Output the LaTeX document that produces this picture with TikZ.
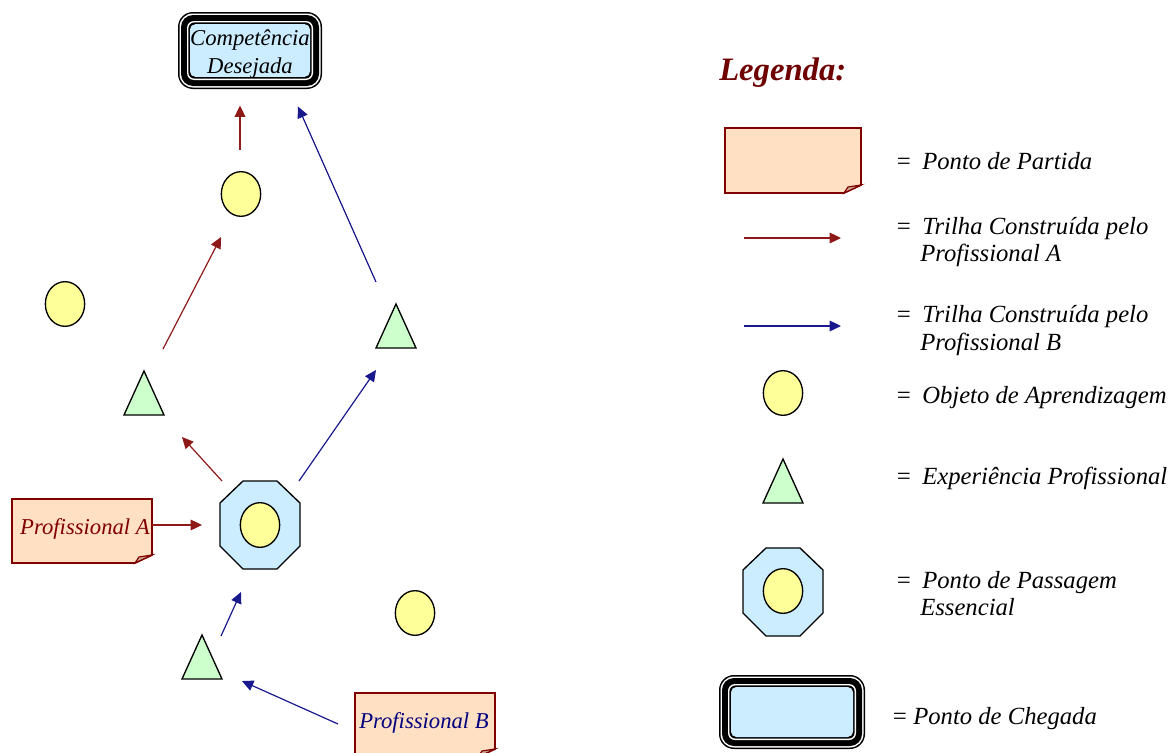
\documentclass[tikz,border=0pt]{standalone}
\usepackage{fontspec}
\setmainfont{Liberation Serif}
\usetikzlibrary{arrows.meta,shapes.geometric,calc}
\definecolor{darkred}{RGB}{128,0,0}
\definecolor{navyb}{RGB}{0,0,128}
\definecolor{peach}{RGB}{255,224,194}
\definecolor{foldtan}{RGB}{204,172,150}
\definecolor{lightyellow}{RGB}{255,255,153}
\definecolor{lightgreen}{RGB}{204,255,204}
\definecolor{lightblue}{RGB}{204,236,255}
\definecolor{legred}{RGB}{110,0,0}
\newcommand\notebox[4]{%
  \filldraw[notest] (#1,#2) -- (#3,#2) -- (#3,#4-8) -- (#3-17,#4) -- (#1,#4) -- cycle;
  \filldraw[foldst] (#3,#4-8) -- (#3-13,#4-6) -- (#3-17,#4) -- cycle;}
\newcommand\tripleframe[4]{%
  \foreach \o/\c/\r in {12/black/15, 10.5/white/13.5, 9/black/12, 3/white/7, 1.6/black/6}{
    \fill[\c, rounded corners=\r*0.75pt] (#1-#3-\o,#2-#4-\o) rectangle (#1+#3+\o,#2+#4+\o);}}
\tikzset{
  trail/.style={line width=0.9pt, -{Triangle[length=8.5pt,width=8pt]}},
  trailA/.style={trail, draw=darkred!90!white},
  trailB/.style={trail, draw=navyb!90!white},
  notest/.style={draw=darkred, line width=1.3pt, fill=peach, line join=miter},
  foldst/.style={draw=darkred, line width=0.9pt, fill=foldtan},
  obj/.style={ellipse, draw=black, line width=1pt, fill=lightyellow, minimum width=29.5pt, minimum height=33.5pt, inner sep=0pt},
  expst/.style={draw=black, line width=1pt, fill=lightgreen, line join=miter},
  octst/.style={draw=black, line width=1pt, fill=lightblue},
  exper/.pic={\path[expst] (-20,22) -- (0,-22) -- (20,22) -- cycle;},
  octo/.pic={\path[octst] (-17,-44) -- (17,-44) -- (40,-22) -- (40,21) -- (17,44) -- (-17,44) -- (-40,21) -- (-40,-22) -- cycle;},
  diag/.style={font=\fontsize{17}{21}\selectfont\itshape, inner sep=0pt},
  leg/.style={font=\fontsize{18.5}{22}\selectfont\itshape, inner sep=0pt, anchor=base west, text=black},
}
\begin{document}
\begin{tikzpicture}[x=0.75pt,y=-0.75pt]
\useasboundingbox (0,0) rectangle (1172,753);
% ---------- diagram ----------
\coordinate (O) at (260,525);
\coordinate (t1) at (144,393);
\coordinate (t2) at (396,326);
\coordinate (t3) at (202,657);
\coordinate (noteA) at (82,531);
\coordinate (noteB) at (425,725);
% arrival box
\tripleframe{250}{50.5}{60}{26.5}
\node[fill=lightblue, rounded corners=4pt, minimum width=90pt, minimum height=39.5pt, inner sep=0pt] (comp) at (250,50.5) {};
\node[diag, align=center] (compText) at (250,54) {Competência\\[-0.5pt]Desejada};
% objects
\node[obj] (c1) at (241,194) {};
\node[obj] (c2) at (65,304) {};
\node[obj] (c3) at (415,613) {};
% experiences
\pic at (t1) {exper};
\pic at (t2) {exper};
\pic at (t3) {exper};
% essential passage point
\pic at (O) {octo};
\node[obj] (oc) at (260,525) {};
% start notes
\notebox{12}{499}{152}{563}
\node[diag, text=darkred] (profA) at (85,529) {Profissional A};
\notebox{355}{693}{495}{757}
\node[diag, text=navyb] (profB) at (424,723) {Profissional B};
% trails of professional A
\draw[trailA] ($(noteA)+(70,-6)$) -- ($(O)+(-58,0)$);
\draw[trailA] ($(O)+(-38,-44)$) -- ($(t1)+(38,44)$);
\draw[trailA] ($(t1)+(19,-44)$) -- ($(c1)+(-20,43)$);
\draw[trailA] ($(c1)+(-1,-44)$) -- ($(comp)+(-10,55)$);
% trails of professional B
\draw[trailB] ($(noteB)+(-87,-1)$) -- ($(t3)+(40,24)$);
\draw[trailB] ($(t3)+(19,-21)$) -- ($(O)+(-19,67)$);
\draw[trailB] ($(O)+(39,-44)$) -- ($(t2)+(-20,44)$);
\draw[trailB] ($(t2)+(-20,-44)$) -- ($(comp)+(48,56)$);
% ---------- legend ----------
\node[font=\fontsize{24.5}{28}\selectfont\bfseries\itshape, text=legred, inner sep=0pt, anchor=base west] (legtitle) at (719,80) {Legenda:};
\notebox{725}{128}{861}{193}
\node[leg] (eq1) at (895,169) {=};
\node[leg] (l1) at (922,169) {Ponto de Partida};
\coordinate (la1s) at (744,238);
\coordinate (la1e) at (841,238);
\draw[trailA] (la1s) -- (la1e);
\node[leg] (eq2) at (895,234) {=};
\node[leg] (l2a) at (922,234) {Trilha Construída pelo};
\node[leg] (l2b) at (920,261) {Profissional A};
\coordinate (la2s) at (744,326);
\coordinate (la2e) at (841,326);
\draw[trailB] (la2s) -- (la2e);
\node[leg] (eq3) at (895,322) {=};
\node[leg] (l3a) at (922,322) {Trilha Construída pelo};
\node[leg] (l3b) at (920,350) {Profissional B};
\node[obj] (lc) at (783,393) {};
\node[leg] (eq4) at (895,403) {=};
\node[leg] (l4) at (922,403) {Objeto de Aprendizagem};
\coordinate (lt) at (783,481);
\pic at (lt) {exper};
\node[leg] (eq5) at (895,484) {=};
\node[leg] (l5) at (922,484) {Experiência Profissional};
\coordinate (lo) at (783,592);
\pic at (lo) {octo};
\node[obj] (loc) at (783,591) {};
\node[leg] (eq6) at (895,588) {=};
\node[leg] (l6a) at (922,588) {Ponto de Passagem};
\node[leg] (l6b) at (920,615) {Essencial};
\tripleframe{792}{712}{61}{25}
\node[fill=lightblue, rounded corners=4pt, minimum width=91.5pt, minimum height=37.5pt, inner sep=0pt] (lchg) at (792,712) {};
\node[leg] (eq7) at (891,724) {=};
\node[leg] (l7) at (913,724) {Ponto de Chegada};
\end{tikzpicture}
\end{document}
